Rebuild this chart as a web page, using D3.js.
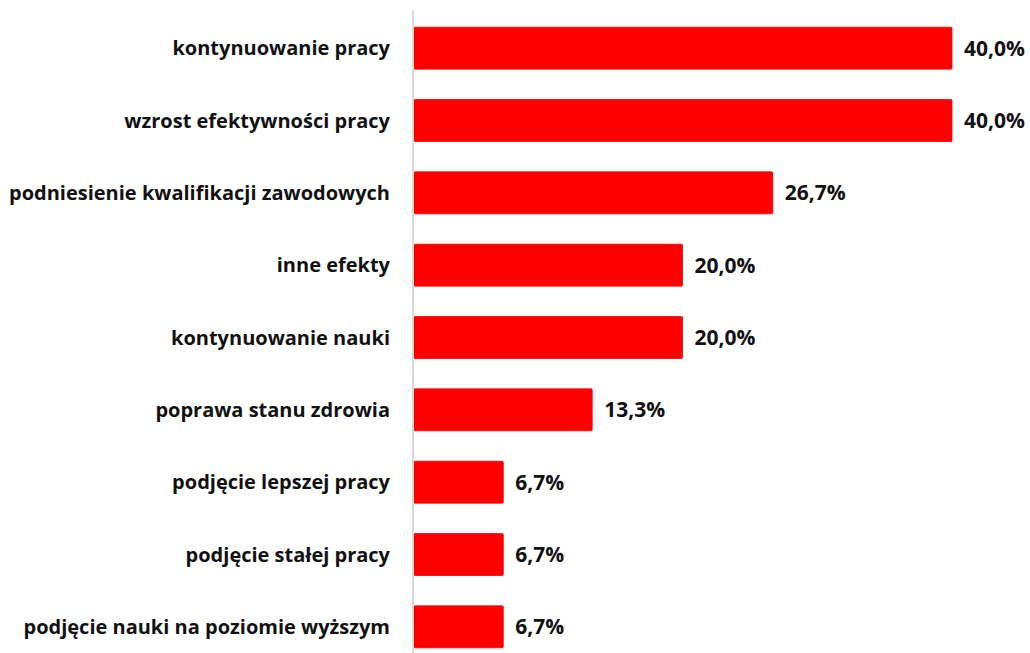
<!DOCTYPE html>
<html><head><meta charset="utf-8">
<script src="https://cdn.jsdelivr.net/npm/d3@7"></script>
<style>body{margin:0;background:#fff}svg{display:block}</style>
</head><body><svg id="c" width="1030" height="653"></svg>
<script>
const categories = ["kontynuowanie pracy","wzrost efektywności pracy","podniesienie kwalifikacji zawodowych","inne efekty","kontynuowanie nauki","poprawa stanu zdrowia","podjęcie lepszej pracy","podjęcie stałej pracy","podjęcie nauki na poziomie wyższym"];
const values = [40.0,40.0,26.7,20.0,20.0,13.3,6.7,6.7,6.7];
const labels = ["40,0%","40,0%","26,7%","20,0%","20,0%","13,3%","6,7%","6,7%","6,7%"];

const svg = d3.select("#c");
const x0 = 413;
const x = d3.scaleLinear().domain([0,40]).range([x0, 952]);
const y = d3.scaleBand().domain(categories).range([12, 663]).paddingInner(0.42).paddingOuter(0.21);
const font = "'Open Sans', sans-serif";

svg.selectAll("rect.bar").data(categories).join("rect")
  .attr("class","bar")
  .attr("x", x0+1).attr("y", d=>y(d))
  .attr("width", (d,i)=>x(values[i])-x0-1).attr("height", y.bandwidth())
  .attr("fill","#ff0000").attr("stroke","#f00000").attr("stroke-width",0.8).attr("rx",1);

svg.append("line").attr("x1",x0).attr("x2",x0).attr("y1",10).attr("y2",653)
  .attr("stroke","#d9d9d9").attr("stroke-width",2);

svg.selectAll("text.cat").data(categories).join("text")
  .attr("class","cat")
  .attr("x", 390).attr("y", d=>y(d)+y.bandwidth()/2)
  .attr("dy","0.35em").attr("text-anchor","end")
  .attr("font-family",font).attr("font-weight","bold").attr("font-size",20)
  .attr("fill","#111").text(d=>d);

svg.selectAll("text.val").data(categories).join("text")
  .attr("class","val")
  .attr("x", (d,i)=>x(values[i])+12).attr("y", d=>y(d)+y.bandwidth()/2)
  .attr("dy","0.35em")
  .attr("font-family",font).attr("font-weight","bold").attr("font-size",21)
  .attr("fill","#111").text((d,i)=>labels[i]);
</script></body></html>
